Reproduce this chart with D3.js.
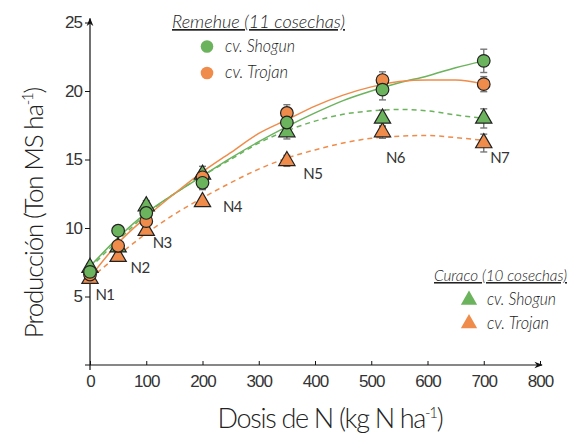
<!DOCTYPE html>
<html>
<head>
<meta charset="utf-8">
<script src="https://cdn.jsdelivr.net/npm/d3@7"></script>
<style>
  body { margin: 0; background: #fff; }
  svg { font-family: Lato, "Open Sans", sans-serif; font-weight: 300; }
  .tick text { font-size: 17px; fill: #333; letter-spacing: -1px; }
</style>
</head>
<body>
<script>
// doses (kg N/ha) and production (Ton MS/ha)
var doses = [0, 50, 100, 200, 350, 520, 700];
var levels = ["N1", "N2", "N3", "N4", "N5", "N6", "N7"];

var remShogun = [6.8, 9.8, 11.1, 13.3, 17.7, 20.1, 22.2];
var remShogunErr = [0.3, 0.3, 0.4, 0.5, 0.5, 0.75, 0.85];
var remTrojan = [6.6, 8.7, 10.5, 13.7, 18.4, 20.8, 20.5];
var remTrojanErr = [0.3, 0.3, 0.3, 0.5, 0.6, 0.6, 0.55];
var curShogun = [7.1, 8.6, 11.6, 13.9, 17.0, 18.0, 18.0];
var curShogunErr = [0.3, 0.4, 0.4, 0.6, 0.5, 0.6, 0.7];
var curTrojan = [6.3, 7.9, 9.8, 11.9, 14.9, 17.0, 16.2];
var curTrojanErr = [0.3, 0.3, 0.3, 0.3, 0.4, 0.45, 0.65];

// fitted response curves
var curveX = [0, 50, 100, 150, 200, 250, 300, 350, 400, 450, 500, 550, 600, 650, 700];
var remShogunFit = [7.2, 9.3, 11.1, 12.5, 13.8, 15.1, 16.3, 17.4, 18.4, 19.3, 20.0, 20.6, 21.1, 21.7, 22.2];
var remTrojanFit = [6.4, 8.9, 10.8, 12.5, 14.1, 15.5, 16.9, 17.9, 18.9, 19.7, 20.3, 20.7, 20.8, 20.8, 20.5];
var curShogunFit = [7.1, 9.1, 11.0, 12.5, 13.8, 15.0, 16.2, 17.1, 17.8, 18.3, 18.55, 18.65, 18.55, 18.25, 18.0];
var curTrojanFit = [6.3, 8.0, 9.6, 11.0, 12.2, 13.3, 14.3, 15.1, 15.7, 16.2, 16.55, 16.7, 16.75, 16.6, 16.4];

var xTicks = [0, 100, 200, 300, 400, 500, 600, 700, 800];
var yTicks = [5, 10, 15, 20, 25];

var green = "#6bb35c";
var orange = "#ef8c4b";

var width = 576, height = 433;
var svg = d3.select("body").append("svg")
  .attr("width", width)
  .attr("height", height);

var x = d3.scaleLinear().domain([0, 800]).range([90, 540]);
var y = d3.scaleLinear().domain([0, 25]).range([365, 22.5]);

// arrow heads
var defs = svg.append("defs");
defs.append("marker")
  .attr("id", "arrow")
  .attr("viewBox", "0 0 10 10")
  .attr("refX", 9).attr("refY", 5)
  .attr("markerWidth", 7).attr("markerHeight", 7)
  .attr("orient", "auto")
  .append("path")
  .attr("d", "M0,1 L10,5 L0,9 L3,5 Z")
  .attr("fill", "#111");

// axes
var xAxis = d3.axisBottom(x).tickValues(xTicks).tickSize(-4).tickPadding(10);
var yAxis = d3.axisLeft(y).tickValues(yTicks).tickSize(5).tickPadding(3);

var gx = svg.append("g").attr("transform", "translate(0," + y(0) + ")").call(xAxis);
var gy = svg.append("g").attr("transform", "translate(" + x(0) + ",0)").call(yAxis);
gx.select(".domain").remove();
gy.select(".domain").remove();
svg.selectAll(".tick line").attr("stroke", "#111");

svg.append("line")
  .attr("x1", x(0) - 5).attr("y1", y(0))
  .attr("x2", x(800) + 2).attr("y2", y(0))
  .attr("stroke", "#111").attr("stroke-width", 1.2)
  .attr("marker-end", "url(#arrow)");
svg.append("line")
  .attr("x1", x(0)).attr("y1", y(0) + 5)
  .attr("x2", x(0)).attr("y2", y(25) - 4)
  .attr("stroke", "#111").attr("stroke-width", 1.2)
  .attr("marker-end", "url(#arrow)");

// axis titles
var xt = svg.append("text")
  .attr("x", 330).attr("y", 428)
  .attr("text-anchor", "middle")
  .attr("font-size", 27)
  .attr("letter-spacing", -1.3)
  .attr("fill", "#222");
xt.append("tspan").text("Dosis de N (kg N ha");
xt.append("tspan").attr("font-size", 15).attr("dy", -10).text("-1");
xt.append("tspan").attr("dy", 10).text(")");

var yt = svg.append("text")
  .attr("transform", "translate(43,213) rotate(-90)")
  .attr("text-anchor", "middle")
  .attr("font-size", 26)
  .attr("letter-spacing", -1.2)
  .attr("fill", "#222");
yt.append("tspan").text("Producción  (Ton MS ha");
yt.append("tspan").attr("font-size", 15).attr("dy", -10).text("-1");
yt.append("tspan").attr("dy", 10).text(")");

// curves
var line = d3.line()
  .x(function(d) { return x(d[0]); })
  .y(function(d) { return y(d[1]); })
  .curve(d3.curveMonotoneX);

function drawCurve(vals, color, dashed) {
  svg.append("path")
    .datum(curveX.map(function(v, i) { return [v, vals[i]]; }))
    .attr("d", line)
    .attr("fill", "none")
    .attr("stroke", color)
    .attr("stroke-width", 1.5)
    .attr("stroke-dasharray", dashed ? "5,4" : null);
}
drawCurve(curTrojanFit, orange, true);
drawCurve(curShogunFit, green, true);
drawCurve(remShogunFit, green, false);
drawCurve(remTrojanFit, orange, false);

// error bars
function drawErrors(vals, errs) {
  doses.forEach(function(d, i) {
    var g = svg.append("g").attr("stroke", "#777").attr("stroke-width", 1.4);
    g.append("line")
      .attr("x1", x(d)).attr("x2", x(d))
      .attr("y1", y(vals[i] - errs[i])).attr("y2", y(vals[i] + errs[i]));
    [vals[i] - errs[i], vals[i] + errs[i]].forEach(function(v) {
      g.append("line")
        .attr("x1", x(d) - 3.5).attr("x2", x(d) + 3.5)
        .attr("y1", y(v)).attr("y2", y(v));
    });
  });
}
drawErrors(remShogun, remShogunErr);
drawErrors(remTrojan, remTrojanErr);
drawErrors(curShogun, curShogunErr);
drawErrors(curTrojan, curTrojanErr);

// markers
var circle = d3.symbol().type(d3.symbolCircle).size(125);
var tri = d3.symbol().type(d3.symbolTriangle).size(115);

function drawPoints(vals, color, sym) {
  svg.append("g").selectAll("path")
    .data(doses)
    .enter()
    .append("path")
    .attr("d", sym)
    .attr("transform", function(d, i) {
      return "translate(" + x(d) + "," + y(vals[i]) + ")";
    })
    .attr("fill", color)
    .attr("stroke", "#222")
    .attr("stroke-width", 1.2);
}
drawPoints(curTrojan, orange, tri);
drawPoints(curShogun, green, tri);
drawPoints(remTrojan, orange, circle);
drawPoints(remShogun, green, circle);

// level labels, placed next to the lowest point
var labelOffset = [[15, 21], [22, 16], [16, 17], [30, 10], [26, 18], [13, 31], [16, 20]];
svg.append("g").selectAll("text")
  .data(levels)
  .enter()
  .append("text")
  .attr("x", function(d, i) { return x(doses[i]) + labelOffset[i][0]; })
  .attr("y", function(d, i) { return y(curTrojan[i]) + labelOffset[i][1]; })
  .attr("text-anchor", "middle")
  .attr("font-size", 15)
  .attr("font-weight", 400)
  .attr("letter-spacing", -0.5)
  .attr("fill", "#333")
  .text(function(d) { return d; });

// legends
function legend(title, tx, ty, tw, fs, items, sym) {
  svg.append("text")
    .attr("x", tx).attr("y", ty)
    .attr("font-size", fs)
    .attr("font-style", "italic")
    .attr("textLength", tw)
    .attr("lengthAdjust", "spacingAndGlyphs")
    .attr("text-decoration", "underline")
    .attr("fill", "#222")
    .text(title);
  items.forEach(function(it, i) {
    svg.append("path")
      .attr("d", sym)
      .attr("transform", "translate(" + it.mx + "," + it.my + ")")
      .attr("fill", it.color);
    svg.append("text")
      .attr("x", it.mx + 18).attr("y", it.my + 5)
      .attr("font-size", 17)
      .attr("font-style", "italic")
      .attr("textLength", it.w)
      .attr("lengthAdjust", "spacingAndGlyphs")
      .attr("fill", "#222")
      .text(it.name);
  });
}
legend("Remehue (11 cosechas)", 172, 28, 173, 17, [
  {name: "cv. Shogun", color: green, mx: 207, my: 46.5, w: 70},
  {name: "cv. Trojan", color: orange, mx: 207, my: 73, w: 63}
], circle);
legend("Curaco (10 cosechas)", 434, 281, 133, 15.5, [
  {name: "cv. Shogun", color: green, mx: 469, my: 300, w: 69},
  {name: "cv. Trojan", color: orange, mx: 469, my: 323.5, w: 62}
], tri);
</script>
</body>
</html>
